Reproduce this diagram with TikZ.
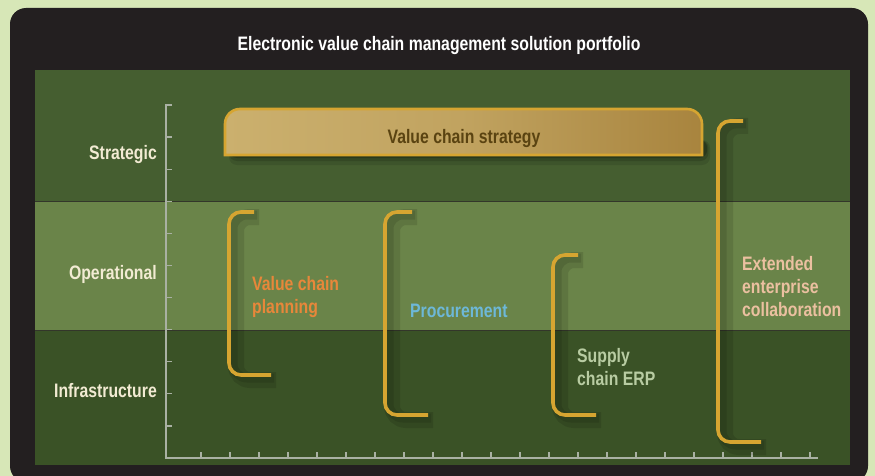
\documentclass[tikz,border=0pt]{standalone}
\usepackage{fontspec}
\setmainfont{Liberation Sans}
\newfontfamily\condfont{Liberation Sans}[FakeStretch=0.81]
\usetikzlibrary{positioning, calc}
\definecolor{vcPage}{HTML}{D7E7B7}
\definecolor{vcFrame}{HTML}{231F20}
\definecolor{vcStrat}{HTML}{455E30}
\definecolor{vcOper}{HTML}{6A8449}
\definecolor{vcInfra}{HTML}{3A5226}
\definecolor{vcEdge}{HTML}{33362A}
\definecolor{vcAxis}{HTML}{A9B1A3}
\definecolor{vcCream}{HTML}{F2EBD3}
\definecolor{vcGold}{HTML}{D6A531}
\definecolor{vcTanL}{HTML}{CBB06E}
\definecolor{vcTanR}{HTML}{A8843E}
\definecolor{vcBrown}{HTML}{5A4311}
\definecolor{vcOrange}{HTML}{E8873A}
\definecolor{vcBlue}{HTML}{6DB8D8}
\definecolor{vcSage}{HTML}{B8CCA2}
\definecolor{vcPeach}{HTML}{EBC0A0}
\tikzset{
  % one condensed bold face for every label
  every picture/.append style = {x=1pt, y=-1pt},
  cond/.style      = {font=\condfont\bfseries\fontsize{19.5}{23}\selectfont, inner sep=0pt},
  levellbl/.style  = {cond, text=vcCream, anchor=base east},
  blurb/.style     = {cond, anchor=north west, align=left},
  band/.style      = {draw=vcEdge, line width=0.9pt},
  axisline/.style  = {vcAxis, line width=1.6pt},
  tick/.style      = {vcAxis, line width=1.2pt},
  bracket/.style   = {vcGold, line width=3.6pt, rounded corners=12pt},
  brshade/.style   = {black, line width=#1, rounded corners=14pt, opacity=0.11},
}

\begin{document}
\begin{tikzpicture}
  \useasboundingbox (0,0) rectangle (875,476);
  \fill[vcPage] (0,0) rectangle (875,476);
  \clip (0,0) rectangle (875,476);
  % frame and title
  \fill[vcFrame, rounded corners=16pt] (10,8) rectangle (868,482);
  \node[cond, text=white, anchor=base] (title) at (439,51)
    {Electronic value chain management solution portfolio};
  % three bands
  \fill[vcStrat] (35,70) rectangle (850,201);
  \fill[vcOper]  (35,201) rectangle (850,330);
  \fill[vcInfra] (35,330) rectangle (850,465);
  \draw[band] (35,201) -- (850,201);
  \draw[band] (35,330) -- (850,330);
  % axes
  \draw[axisline] (172,105) -- (166,105) -- (166,458) -- (818,458);
  \foreach \k in {1,...,10}
    \draw[tick] (166,105+32.09*\k) -- ++(6,0);
  \foreach \k in {0,...,21}
    \draw[tick] (201+29*\k,458) -- ++(0,-6);
  \node[levellbl] (strategic)   at (157,160) {Strategic};
  \node[levellbl] (operational) at (157,279) {Operational};
  \node[levellbl] (infra)       at (157,397) {Infrastructure};
  % strategy box
  \foreach \d/\o in {10/0.10,6/0.14,3/0.2}
    \fill[black, opacity=\o, rounded corners=8pt]
      (229,140) rectangle (706+\d*0.4,155+\d);
  \draw[vcGold, line width=2.6pt, left color=vcTanL, right color=vcTanR,
        middle color=vcTanL!70!vcTanR]
    (225,155) [rounded corners=15pt] -- (225,109) -- (702,109)
    [sharp corners] -- (702,155) -- cycle;
  \node[cond, text=vcBrown, anchor=base] (strategy) at (464,143)
    {Value chain strategy};
  % brackets with their soft shade
  \foreach \xa/\ya/\xb/\xc/\yb in {229/212/254/271/375, 385/212/412/428/415,
                                   553/255/578/596/415, 718/121/743/761/442} {
    \draw[brshade=16pt] (\xb+5,\ya+5) -- (\xa+7,\ya+5) -- (\xa+7,\yb+5) -- (\xc+5,\yb+5);
    \draw[brshade=9pt] (\xb+3,\ya+3) -- (\xa+4,\ya+3) -- (\xa+4,\yb+3) -- (\xc+3,\yb+3);
    \draw[bracket] (\xb,\ya) -- (\xa,\ya) -- (\xa,\yb) -- (\xc,\yb);
  }
  \node[blurb, text=vcOrange] (planning) at (252,276) {Value chain\\planning};
  \node[cond, text=vcBlue, anchor=base west] (procure) at (410,317) {Procurement};
  \node[blurb, text=vcSage] (erp) at (577,348) {Supply\\chain ERP};
  \node[blurb, text=vcPeach] (extended) at (742,256)
    {Extended\\enterprise\\collaboration};
\end{tikzpicture}
\end{document}
